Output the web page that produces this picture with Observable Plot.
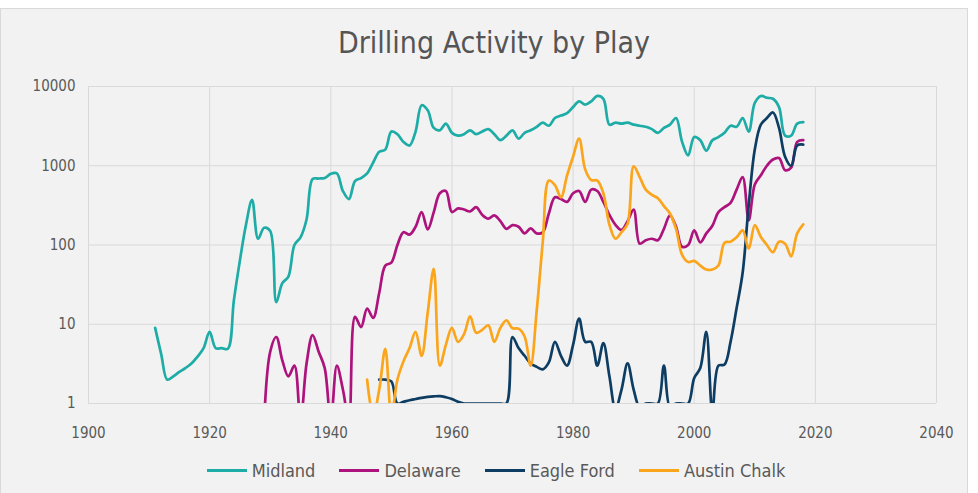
<!DOCTYPE html>
<html>
<head>
<meta charset="utf-8">
<script src="https://cdn.jsdelivr.net/npm/d3@7"></script>
<script src="https://cdn.jsdelivr.net/npm/@observablehq/plot@0.6"></script>
<style>
  html, body { margin: 0; padding: 0; background: #ffffff; }
  body { width: 978px; height: 493px; position: relative; overflow: hidden; }
  #frame { position: absolute; left: 0; top: 8px; width: 968px; height: 492px; background: #f2f2f2; border: 1px solid #d9d9d9; box-sizing: border-box; }
  #title { position: absolute; left: 0; top: 24px; width: 988px; text-align: center; font-family: "DejaVu Sans Condensed", "Liberation Sans Narrow", "Roboto", sans-serif; font-size: 30px; color: #555555; line-height: 38px; }
  #chart { position: absolute; left: 0; top: 66px; }
  #legend { position: absolute; left: 0; top: 460px; width: 992px; display: flex; justify-content: center; align-items: center; font-family: "DejaVu Sans Condensed", "Liberation Sans Narrow", "Roboto", sans-serif; font-size: 18px; color: #595959; }
  .item { display: flex; align-items: center; margin: 0 12px; }
  .sw { width: 40px; height: 3px; margin-right: 5px; }
</style>
</head>
<body>
<div id="frame"></div>
<div id="title">Drilling Activity by Play</div>
<div id="chart"></div>
<div id="legend"></div>
<script>
// ---- data (log scale) ----
const seriesNames = ["Midland", "Delaware", "Eagle Ford", "Austin Chalk"];
const seriesColors = ["#1eaca7", "#ad137c", "#0e3d63", "#fba51c"];
const xTicks = [1900, 1920, 1940, 1960, 1980, 2000, 2020, 2040];
const yTicks = [1, 10, 100, 1000, 10000];

const midlandStart = 1911;
const midland = [
  9, 4.2, 2.0, 2.2, 2.5, 2.8, 3.2, 3.9, 5.0, 8.0,            // 1911-1920
  5.0, 5.0, 4.9, 20, 64, 180, 370, 120, 165, 150,           // 1921-1930
  19, 33, 40, 100, 125, 210, 680, 690, 700, 790,            // 1931-1940
  800, 480, 380, 640, 700, 800, 1100, 1500, 1600, 2700,     // 1941-1950
  2500, 2000, 1800, 2700, 5800, 5000, 3000, 2800, 3400, 2600, // 1951-1960
  2400, 2500, 2800, 2500, 2700, 2900, 2500, 2100, 2400, 2800, // 1961-1970
  2200, 2600, 2800, 3100, 3500, 3200, 4000, 4300, 4600, 5500, // 1971-1980
  6500, 5900, 6500, 7600, 7000, 3300, 3500, 3400, 3500, 3300, // 1981-1990
  3200, 3100, 2900, 2600, 3000, 3300, 4000, 2000, 1350, 2300, // 1991-2000
  2100, 1550, 2100, 2300, 2600, 3200, 3100, 4000, 2700, 6200, // 2001-2010
  7600, 7200, 7000, 5500, 2400, 2400, 3400, 3550              // 2011-2018
];

const delawareStart = 1929;
const delaware = [
  0.6, 4.5,                                                  // 1929-1930
  6.9, 3.5, 2.2, 3.0, 0.6, 3.2, 7.3, 4.5, 2.8, 0.6,          // 1931-1940
  3.0, 1.5, 0.6, 12.4, 9.2, 15.8, 12, 25, 55, 60,            // 1941-1950
  100, 145, 135, 170, 260, 157, 260, 450, 480, 260,          // 1951-1960
  290, 280, 265, 300, 240, 215, 237, 200, 160, 178,          // 1961-1970
  170, 140, 162, 140, 145, 250, 400, 380, 350, 450,          // 1971-1980
  480, 350, 500, 480, 350, 240, 180, 155, 200, 280,          // 1981-1990
  104, 115, 120, 115, 160, 237, 170, 95, 100, 153,           // 1991-2000
  108, 140, 175, 260, 300, 340, 500, 720, 205, 580,          // 2001-2010
  760, 1000, 1200, 1250, 880, 950, 2000, 2100                // 2011-2018
];

const eagleFordStart = 1948;
const eagleFord = [
  2.0, 2.0, 1.9,                                             // 1948-1950
  1.0, 1.05, 1.1, 1.14, 1.18, 1.21, 1.23, 1.24, 1.2, 1.14,   // 1951-1960
  1.05, 1.0, 1.0, 1.0, 1.0, 1.0, 1.0, 1.0, 1.0, 6.9,         // 1961-1970
  5.0, 4.0, 3.2, 2.9, 2.7, 3.3, 6.0, 4.0, 3.0, 5.5,          // 1971-1980
  11.8, 6.0, 6.0, 3.0, 5.8, 2.2, 0.85, 1.5, 3.2, 1.5,        // 1981-1990
  0.9, 1.0, 1.0, 1.0, 3.0, 0.9, 1.0, 1.0, 1.0, 2.1,          // 1991-2000
  2.8, 8.0, 0.8, 3.0, 3.1, 6.0, 16, 45, 320, 1600,           // 2001-2010
  3300, 4000, 4700, 3000, 1300, 1000, 1800, 1850             // 2011-2018
];

const austinChalkStart = 1946;
const austinChalk = [
  2.0, 0.7, 1.5, 4.9, 0.7,                                   // 1946-1950
  2.0, 3.4, 5.0, 8.0, 4.0, 14, 50, 3.0, 5.5, 9.0,            // 1951-1960
  6.0, 7.5, 12.6, 7.8, 8.5, 9.7, 6.0, 9.0, 11.2, 8.9,        // 1961-1970
  8.8, 7.0, 3.0, 15, 110, 650, 570, 400, 750, 1300,          // 1971-1980
  2200, 900, 660, 650, 450, 180, 120, 145, 185, 980,         // 1981-1990
  720, 500, 430, 390, 310, 250, 160, 75, 61, 63,             // 1991-2000
  55, 49, 49, 55, 107, 110, 125, 153, 90, 178,               // 2001-2010
  126, 100, 81, 110, 104, 72, 140, 182                       // 2011-2018
];

// ---- build a tidy table ----
const sources = [
  [seriesNames[0], midlandStart, midland],
  [seriesNames[1], delawareStart, delaware],
  [seriesNames[2], eagleFordStart, eagleFord],
  [seriesNames[3], austinChalkStart, austinChalk]
];
const rows = [];
for (const [name, start, vals] of sources) {
  vals.forEach((v, i) => rows.push({series: name, year: start + i, value: v}));
}

const font = '"DejaVu Sans Condensed", "Liberation Sans Narrow", Roboto, sans-serif';

const chart = Plot.plot({
  width: 978,
  height: 384,
  marginLeft: 88,
  marginRight: 42,
  marginTop: 20,
  marginBottom: 47,
  style: {background: "transparent", fontFamily: font, fontSize: "15px", color: "#595959", overflow: "visible"},
  x: {domain: [1900, 2040], label: null},
  y: {type: "log", domain: [1, 10000], label: null},
  color: {domain: seriesNames, range: seriesColors},
  marks: [
    Plot.gridX(xTicks, {stroke: "#d9d9d9", strokeOpacity: 1, strokeWidth: 1}),
    Plot.gridY(yTicks, {stroke: "#d9d9d9", strokeOpacity: 1, strokeWidth: 1}),
    Plot.axisX(xTicks, {tickSize: 0, tickPadding: 24, tickFormat: d => String(d), label: null, fill: "#595959"}),
    Plot.axisY(yTicks, {tickSize: 0, tickPadding: 13, tickFormat: d => String(d), label: null, fill: "#595959"}),
    Plot.line(rows, {x: "year", y: "value", z: "series", stroke: "series", curve: "catmull-rom", strokeWidth: 2.7, clip: true})
  ]
});
document.getElementById("chart").appendChild(chart);

// ---- legend ----
const legend = document.getElementById("legend");
seriesNames.forEach((name, i) => {
  const item = document.createElement("div");
  item.className = "item";
  const sw = document.createElement("div");
  sw.className = "sw";
  sw.style.background = seriesColors[i];
  const lab = document.createElement("span");
  lab.textContent = name;
  item.appendChild(sw);
  item.appendChild(lab);
  legend.appendChild(item);
});
</script>
</body>
</html>
